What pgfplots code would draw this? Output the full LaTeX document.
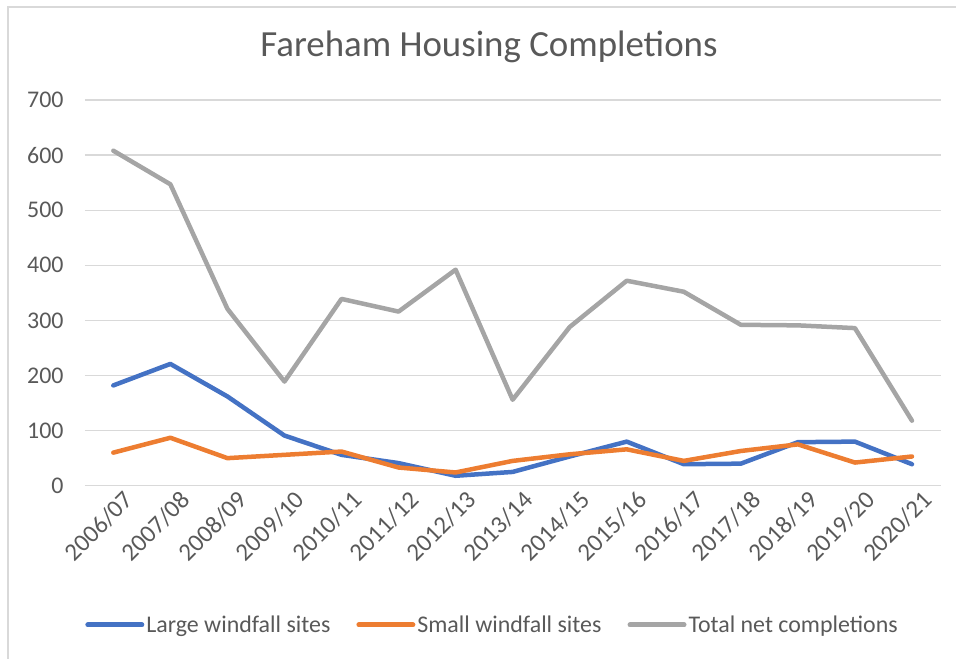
\documentclass[border=0pt]{standalone}
\usepackage{fontspec}
\setmainfont{Carlito}
\usepackage{pgfplots}
\pgfplotsset{compat=1.18}
\definecolor{cblue}{HTML}{4472C4}
\definecolor{corange}{HTML}{ED7D31}
\definecolor{cgray}{HTML}{A5A5A5}
\definecolor{cgrid}{HTML}{D9D9D9}
\definecolor{ctext}{HTML}{595959}
\begin{document}
\begin{tikzpicture}
\useasboundingbox (0bp,0bp) rectangle (956bp,659bp);
\draw[cgrid, line width=1.3bp] (8bp,0bp) -- (8bp,652bp) -- (956bp,652bp);
\begin{axis}[
  at={(84.8bp,173.3bp)}, anchor=south west,
  scale only axis, width=855.7bp, height=385.7bp,
  xmin=-0.5, xmax=14.5, ymin=0, ymax=700,
  xtick={0,...,14},
  xticklabels={2006/07,2007/08,2008/09,2009/10,2010/11,2011/12,2012/13,2013/14,2014/15,2015/16,2016/17,2017/18,2018/19,2019/20,2020/21},
  ytick={0,100,...,700},
  major tick length=0pt,
  axis line style={draw=none},
  ymajorgrids, grid style={cgrid, line width=1.3bp},
  tick label style={font=\fontsize{24}{28}\selectfont, text=ctext},
  /pgf/number format/assume math mode=true,
  yticklabel style={anchor=east, inner sep=0pt, xshift=-21bp},
  xticklabel style={rotate=45, anchor=north east, inner sep=0pt, xshift=4bp, yshift=-9bp, font=\fontsize{25}{28}\selectfont},
  title={Fareham Housing Completions},
  title style={at={(0.4724,1)}, anchor=center, yshift=47bp, font=\fontsize{37}{40}\selectfont, text=ctext},
  legend columns=3,
  legend style={draw=none, fill=none, at={(0.4765,-0.361)}, anchor=center,
    font=\fontsize{24}{28}\selectfont, text=ctext,
    /tikz/every even column/.append style={column sep=24bp},
    nodes={inner sep=2bp}},
  legend image code/.code={\draw[#1, line width=5bp, line cap=round] (0bp,0bp) -- (54bp,0bp);},
  every axis plot/.append style={line width=4.5bp, line join=round, line cap=round},
]
\addplot[cblue, mark=none] coordinates {
(0,182) (1,221) (2,162) (3,91) (4,56) (5,41) (6,18) (7,25) (8,53) (9,80) (10,39) (11,40) (12,79) (13,80) (14,39)};
\addlegendentry{Large windfall sites}
\addplot[corange, mark=none] coordinates {
(0,60) (1,87) (2,50) (3,56) (4,62) (5,33) (6,24) (7,45) (8,57) (9,66) (10,45) (11,63) (12,75) (13,42) (14,53)};
\addlegendentry{Small windfall sites}
\addplot[cgray, mark=none] coordinates {
(0,608) (1,547) (2,321) (3,189) (4,339) (5,316) (6,392) (7,156) (8,288) (9,372) (10,352) (11,292) (12,291) (13,286) (14,118)};
\addlegendentry{Total net completions}
\end{axis}
\end{tikzpicture}
\end{document}
